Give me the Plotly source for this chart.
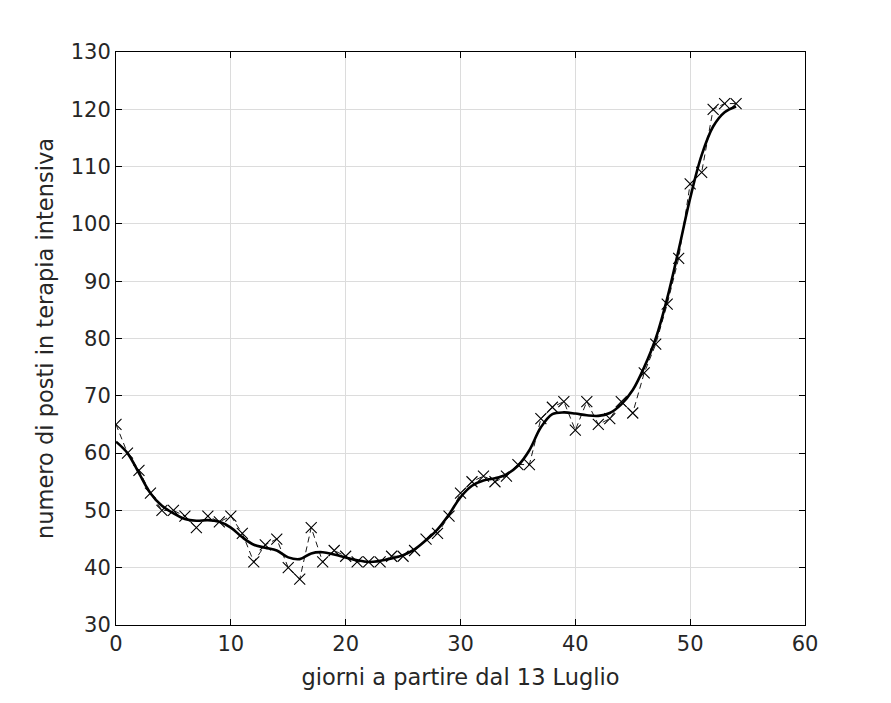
import plotly.graph_objects as go

days = list(range(55))
posti = [65, 60, 57, 53, 50, 50, 49, 47, 49, 48,
         49, 46, 41, 44, 45, 40, 38, 47, 41, 43,
         42, 41, 41, 41, 42, 42, 43, 45, 46, 49,
         53, 55, 56, 55, 56, 58, 58, 66, 68, 69,
         64, 69, 65, 66, 69, 67, 74, 79, 86, 94,
         107, 109, 120, 121, 121]
smooth = [62, 60, 56.5, 53, 50.8, 49.5, 48.5, 48.2, 48.3, 48.0,
          47, 45.3, 44, 43.5, 43, 41.8, 41.5, 42.5, 42.7, 42.3,
          41.8, 41.3, 41, 41.2, 41.6, 42.2, 43.2, 44.8, 46.7, 49.3,
          52.3, 54.3, 55.2, 55.6, 56.3, 57.8, 60.5, 64.5, 66.8, 67.1,
          66.9, 66.6, 66.5, 67, 68.5, 71, 75, 80, 87, 95.5,
          104.5, 112, 117, 119.5, 120.5]
xticks = [0, 10, 20, 30, 40, 50, 60]
yticks = [30, 40, 50, 60, 70, 80, 90, 100, 110, 120, 130]

fig = go.Figure()
fig.add_trace(go.Scatter(x=days, y=posti, mode="lines+markers",
                         line=dict(color="black", width=0.9, dash="6px,4px"),
                         marker=dict(symbol="x-thin", size=11,
                                     line=dict(color="black", width=1.1)),
                         showlegend=False))
fig.add_trace(go.Scatter(x=days, y=smooth, mode="lines",
                         line=dict(color="black", width=2.6, shape="spline"),
                         showlegend=False))

axis_common = dict(showline=True, linecolor="black", linewidth=1, mirror="ticks",
                   ticks="inside", ticklen=6, tickcolor="black",
                   showgrid=True, gridcolor="#dcdcdc", gridwidth=1,
                   zeroline=False, tickfont=dict(size=21, color="#262626"))
fig.update_xaxes(range=[0, 60], tickvals=xticks,
                 title=dict(text="giorni a partire dal 13 Luglio",
                            font=dict(size=22.5, color="#262626"), standoff=14),
                 **axis_common)
fig.update_yaxes(range=[30, 130], tickvals=yticks,
                 title=dict(text="numero di posti in terapia intensiva",
                            font=dict(size=22.5, color="#262626"), standoff=10),
                 **axis_common)
fig.update_layout(width=891, height=703,
                  margin=dict(l=108, r=94, t=44, b=86),
                  paper_bgcolor="white", plot_bgcolor="white",
                  font=dict(family="DejaVu Sans", color="#262626"))
fig.write_html("out.html")
